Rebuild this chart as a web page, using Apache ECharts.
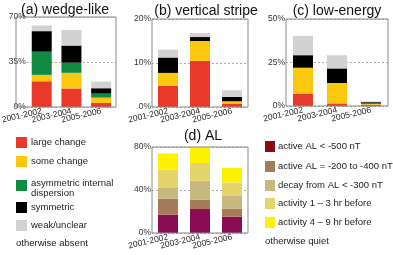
<!DOCTYPE html>
<html>
<head>
<meta charset="utf-8">
<script src="https://cdn.jsdelivr.net/npm/echarts@6/dist/echarts.min.js"></script>
<style>
  html, body { margin: 0; padding: 0; background: #fff; }
  #chart { width: 393px; height: 255px; }
</style>
</head>
<body>
<div id="chart"></div>
<script>
const periods = ['2001-2002', '2003-2004', '2005-2006'];

// (a) wedge-like
const aLarge = [20, 14.4, 3.1];
const aSome = [5, 12.2, 4.2];
const aAsym = [18, 7.9, 3.1];
const aSym = [16, 13.3, 4.2];
const aWeak = [4.5, 12.2, 5.2];

// (b) vertical stripe
const bLarge = [4.85, 10.5, 0.8];
const bSome = [2.9, 4.5, 0.5];
const bSym = [3.5, 0.9, 1.0];
const bWeak = [1.8, 0.9, 1.5];

// (c) low-energy
const cLarge = [6.9, 1.5, 0.8];
const cSome = [15.1, 11.7, 0.6];
const cSym = [7.2, 8.4, 0.8];
const cWeak = [11.1, 7.6, 0.4];

// (d) AL
const dActive500 = [17, 22.3, 15.2];
const dActive200 = [15, 8.7, 7.4];
const dDecay = [10.5, 17.7, 12.4];
const dAct13 = [16.5, 16.4, 12.1];
const dAct49 = [15, 14.9, 13.4];

const yTicks = { a: 70, b: 20, c: 50, d: 80 };

const col = {
    large: '#e8392b',
    some: '#fbc80f',
    asym: '#138a44',
    sym: '#000000',
    weak: '#d2d2d2',
    a500: '#8c0b55',
    a200: '#a67b5a',
    decay: '#c6b87e',
    act13: '#e4d46b',
    act49: '#fff200',
};

const font = 'Liberation Sans, Arial, sans-serif';

const grids = [
    { left: 16, top: 17, width: 100, height: 90 },
    { left: 152, top: 19, width: 96, height: 88 },
    { left: 286, top: 19, width: 102, height: 87 },
    { left: 152, top: 147, width: 96, height: 86 },
];

function xAx(i) {
    return {
        type: 'category',
        gridIndex: i,
        data: periods,
        axisLine: { show: false },
        axisTick: { show: false },
        axisLabel: {
            rotate: 13,
            fontSize: 8.5,
            color: '#222',
            fontFamily: font,
            margin: 4,
            interval: 0,
        },
    };
}
function yAx(i, max) {
    return {
        type: 'value',
        gridIndex: i,
        min: 0,
        max: max,
        interval: max / 2,
        axisLine: { show: false },
        axisTick: { show: false },
        axisLabel: {
            fontSize: 8.5,
            color: '#333',
            fontFamily: font,
            margin: 1,
            formatter: '{value}%',
        },
        splitLine: { lineStyle: { type: [2, 2], color: '#888', width: 0.7 } },
    };
}

function bar(i, stack, data, color) {
    return {
        type: 'bar',
        xAxisIndex: i,
        yAxisIndex: i,
        stack: stack,
        data: data,
        barWidth: 20,
        itemStyle: { color: color },
        silent: true,
    };
}

const series = [
    bar(0, 'a', aLarge, col.large),
    bar(0, 'a', aSome, col.some),
    bar(0, 'a', aAsym, col.asym),
    bar(0, 'a', aSym, col.sym),
    bar(0, 'a', aWeak, col.weak),
    bar(1, 'b', bLarge, col.large),
    bar(1, 'b', bSome, col.some),
    bar(1, 'b', bSym, col.sym),
    bar(1, 'b', bWeak, col.weak),
    bar(2, 'c', cLarge, col.large),
    bar(2, 'c', cSome, col.some),
    bar(2, 'c', cSym, col.sym),
    bar(2, 'c', cWeak, col.weak),
    bar(3, 'd', dActive500, col.a500),
    bar(3, 'd', dActive200, col.a200),
    bar(3, 'd', dDecay, col.decay),
    bar(3, 'd', dAct13, col.act13),
    bar(3, 'd', dAct49, col.act49),
];

const titleStyle = { fontSize: 14, fill: '#111', fontFamily: font };
const titles = [
    { text: '(a) wedge-like', x: 65, y: 10 },
    { text: '(b) vertical stripe', x: 206, y: 11 },
    { text: '(c) low-energy', x: 337, y: 11 },
    { text: '(d) AL', x: 203, y: 136 },
];

const legendA = [
    { color: col.large, text: 'large change', y: 137 },
    { color: col.some, text: 'some change', y: 156 },
    { color: col.asym, text: 'asymmetric internal\ndispersion', y: 180 },
    { color: col.sym, text: 'symmetric', y: 202 },
    { color: col.weak, text: 'weak/unclear', y: 220 },
];
const legendD = [
    { color: '#8b0b14', text: 'active AL < -500 nT', y: 141 },
    { color: col.a200, text: 'active AL = -200 to -400 nT', y: 161 },
    { color: col.decay, text: 'decay from AL < -300 nT', y: 180 },
    { color: col.act13, text: 'activity 1 \u2013 3 hr before', y: 198 },
    { color: col.act49, text: 'activity 4 \u2013 9 hr before', y: 217 },
];

const graphic = [];
titles.forEach(t => {
    graphic.push({
        type: 'text', x: t.x, y: t.y,
        style: Object.assign({ text: t.text, align: 'center', verticalAlign: 'middle' }, titleStyle),
    });
});
grids.forEach(g => {
    graphic.push({
        type: 'rect',
        shape: { x: g.left, y: g.top, width: g.width, height: g.height },
        style: { fill: 'none', stroke: '#888', lineWidth: 1 },
        z: 10,
    });
});
const legFont = { fontSize: 9.5, fill: '#222', fontFamily: font };
legendA.forEach(l => {
    graphic.push({ type: 'rect', shape: { x: 16, y: l.y, width: 11, height: 11 }, style: { fill: l.color } });
    const multi = l.text.indexOf('\n') >= 0;
    graphic.push({
        type: 'text', x: 31, y: multi ? l.y - 2 : l.y + 5.5,
        style: Object.assign({ text: l.text, verticalAlign: multi ? 'top' : 'middle', lineHeight: 10 }, legFont),
    });
});
graphic.push({ type: 'text', x: 16, y: 243, style: Object.assign({ text: 'otherwise absent', verticalAlign: 'middle' }, legFont) });
legendD.forEach(l => {
    graphic.push({ type: 'rect', shape: { x: 265, y: l.y, width: 10, height: 11 }, style: { fill: l.color } });
    graphic.push({
        type: 'text', x: 278, y: l.y + 5.5,
        style: Object.assign({ text: l.text, verticalAlign: 'middle' }, legFont),
    });
});
graphic.push({ type: 'text', x: 265, y: 241, style: Object.assign({ text: 'otherwise quiet', verticalAlign: 'middle' }, legFont) });

const chart = echarts.init(document.getElementById('chart'), null, { renderer: 'canvas' });
chart.setOption({
    animation: false,
    grid: grids,
    xAxis: [xAx(0), xAx(1), xAx(2), xAx(3)],
    yAxis: [yAx(0, yTicks.a), yAx(1, yTicks.b), yAx(2, yTicks.c), yAx(3, yTicks.d)],
    series: series,
    graphic: graphic,
});
</script>
</body>
</html>
